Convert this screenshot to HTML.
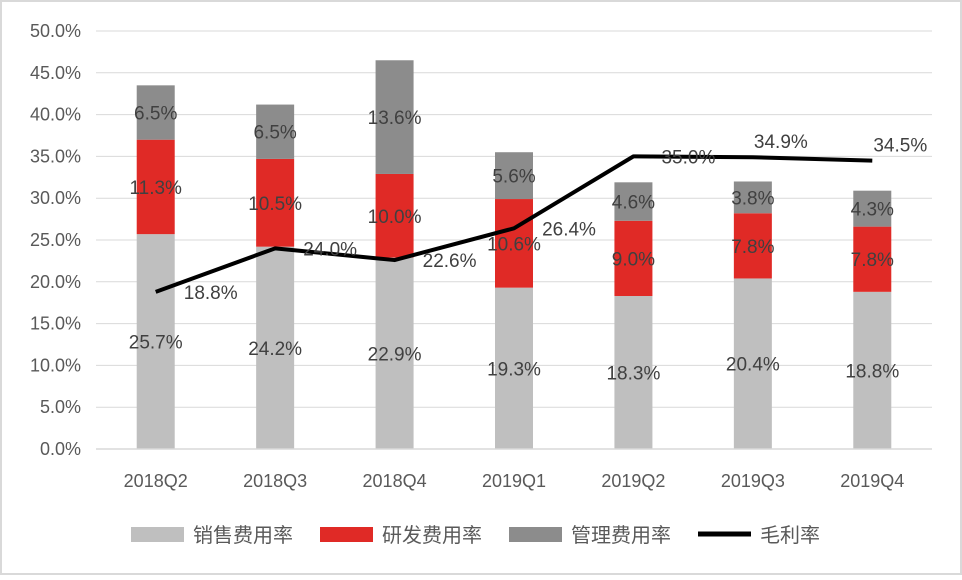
<!DOCTYPE html>
<html><head><meta charset="utf-8">
<style>
html,body{margin:0;padding:0;background:#fff;}
svg text{font-family:"Liberation Sans","Noto Sans CJK SC",sans-serif;}
</style></head>
<body>
<svg id="chart" width="962" height="575" xmlns="http://www.w3.org/2000/svg">
<rect x="1" y="1" width="960" height="573" fill="#fff" stroke="#d9d9d9" stroke-width="2"/>
<g id="grid"></g><g id="bars"></g><g id="line"></g><g id="labels"></g><g id="axes"></g>
<g id="legend">
<rect x="131" y="527" width="53" height="15" fill="#bfbfbf"/>
<text x="193" y="542" font-size="20" fill="#595959">销售费用率</text>
<rect x="320" y="527" width="53" height="15" fill="#e02a26"/>
<text x="382" y="542" font-size="20" fill="#595959">研发费用率</text>
<rect x="509" y="527" width="53" height="15" fill="#8c8c8c"/>
<text x="571" y="542" font-size="20" fill="#595959">管理费用率</text>
<line x1="698" y1="534" x2="751" y2="534" stroke="#000" stroke-width="5"/>
<text x="760" y="542" font-size="20" fill="#595959">毛利率</text>
</g>
</svg>
<script>
const categories=["2018Q2","2018Q3","2018Q4","2019Q1","2019Q2","2019Q3","2019Q4"];
const sales=[25.7,24.2,22.9,19.3,18.3,20.4,18.8];
const rd=[11.3,10.5,10.0,10.6,9.0,7.8,7.8];
const admin=[6.5,6.5,13.6,5.6,4.6,3.8,4.3];
const gross=[18.8,24.0,22.6,26.4,35.0,34.9,34.5];
const yTicks=[0,5,10,15,20,25,30,35,40,45,50];
const NS="http://www.w3.org/2000/svg";
const x0=96,x1=932,yb=449,yt=31;
const band=(x1-x0)/categories.length;
const X=i=>x0+band*(i+0.5);
const Y=v=>yb-(v/50)*(yb-yt);
function mk(tag,attrs,parent){const e=document.createElementNS(NS,tag);for(const k in attrs)e.setAttribute(k,attrs[k]);document.getElementById(parent).appendChild(e);return e;}
yTicks.forEach(t=>{
  const l=mk('line',{x1:x0,x2:x1,y1:Y(t),y2:Y(t),stroke:'#d9d9d9','stroke-width':1},'grid');
  
  
  const tx=mk('text',{x:81,y:Y(t)+6,'font-size':18,fill:'#595959','text-anchor':'end'},'axes');
  tx.textContent=t.toFixed(1)+'%';
  
  
});
const base=mk('line',{x1:x0,x2:x1,y1:yb,y2:yb,stroke:'#d9d9d9','stroke-width':1.5},'axes');


const bw=38;
categories.forEach((c,i)=>{
  const tx=mk('text',{x:X(i),y:487,'font-size':18,fill:'#595959','text-anchor':'middle'},'axes');
  tx.textContent=c;
  
  
  let acc=0;
  [[sales,'#bfbfbf','bar-sales'],[rd,'#e02a26','bar-rd'],[admin,'#8c8c8c','bar-admin']].forEach(([arr,col,nm])=>{
    const v=arr[i];
    const r=mk('rect',{x:X(i)-bw/2,y:Y(acc+v),width:bw,height:Y(acc)-Y(acc+v),fill:col},'bars');
    
    
    const lt=mk('text',{x:X(i),y:(Y(acc)+Y(acc+v))/2+7,'font-size':19,fill:'#404040','text-anchor':'middle'},'labels');
    lt.textContent=v.toFixed(1)+'%';
    
    
    acc+=v;
  });
});
const pts=gross.map((v,i)=>X(i)+','+Y(v)).join(' ');
const pl=mk('polyline',{points:pts,fill:'none',stroke:'#000','stroke-width':4,'stroke-linejoin':'round'},'line');


gross.forEach((v,i)=>{
  const dy=i>=5?-9:7;
  const dx=i>=5?28:55;
  const t=mk('text',{x:X(i)+dx,y:Y(v)+dy,'font-size':19,fill:'#404040','text-anchor':'middle'},'labels');
  t.textContent=v.toFixed(1)+'%';
  
  
});
</script>
</body></html>
